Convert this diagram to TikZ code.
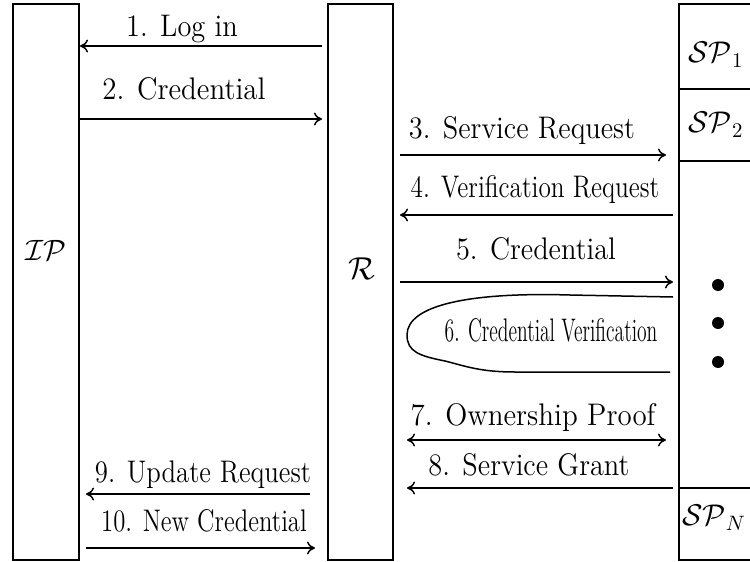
\documentclass[tikz,border=0pt]{standalone}
\usepackage{graphicx}
\usetikzlibrary{arrows.meta,calc}
\begin{document}
\begin{tikzpicture}[x=0.5pt,y=-0.5pt,
  box/.style={draw,line width=1pt,inner sep=0pt,outer sep=0pt,anchor=north west},
  arr/.style={line width=0.75pt,-{To[length=4pt,width=6.5pt]}},
  darr/.style={line width=0.75pt,{To[length=4pt,width=6.5pt]}-{To[length=4pt,width=6.5pt]}},
  lbl/.style={inner sep=0pt,anchor=base,font=\fontsize{14.2}{17}\selectfont},
  ent/.style={inner sep=0pt,font=\fontsize{14.4}{17}\selectfont},
  dot/.style={fill=black,circle,inner sep=0pt,minimum size=6pt}]
\useasboundingbox (0,0) rectangle (750,562);
\clip (0,0) rectangle (750,562);
% boxes
\node[box,minimum width=33pt,minimum height=278pt] (ip) at (13,4) {};
\node[box,minimum width=32.5pt,minimum height=278pt] (r) at (328,4) {};
\node[box,minimum width=38pt,minimum height=42.5pt] (sp1) at (679,4) {};
\node[box,minimum width=38pt,minimum height=36pt] (sp2) at (679,89) {};
\node[box,minimum width=38pt,minimum height=163.5pt] (spm) at (679,161) {};
\node[box,minimum width=38pt,minimum height=36pt] (spn) at (679,488) {};
% entity labels
\node[ent] (ipl) at (46,250) {\scalebox{1.02}{$\mathcal{IP}$}};
\node[ent] (rl) at (362,269) {\scalebox{1.1}{$\mathcal{R}$}};
\node[ent] (sp1l) at (716,55) {\scalebox{1.04}{$\mathcal{SP}_1$}};
\node[ent] (sp2l) at (716,125) {\scalebox{1.04}{$\mathcal{SP}_2$}};
\node[ent] (spnl) at (714,518) {\scalebox{1.04}{$\mathcal{SP}_N$}};
\node[dot] (d1) at (718,285) {};
\node[dot] (d2) at (718,323) {};
\node[dot] (d3) at (718,362) {};
% messages
\draw[arr] ([xshift=-3pt]r.west |- 0,46) -- ([xshift=0.5pt]ip.east |- 0,46);
\node[lbl] (l1) at (182,36) {\scalebox{1}[1.1]{1. Log in}};
\draw[arr] ([xshift=0.5pt]ip.east |- 0,119) -- ([xshift=-3pt]r.west |- 0,119);
\node[lbl] (l2) at (184,99) {\scalebox{1.02}[1.1]{2. Credential}};
\draw[arr] ([xshift=3.5pt]r.east |- 0,155) -- ([xshift=-6.5pt]spm.west |- 0,155);
\node[lbl] (l3) at (522,138) {\scalebox{1}[1.1]{3. Service Request}};
\draw[arr] ([xshift=-3pt]spm.west |- 0,215) -- ([xshift=3.5pt]r.east |- 0,215);
\node[lbl] (l4) at (535,197) {\scalebox{0.89}[1.1]{4. Verification Request}};
\draw[arr] ([xshift=3.5pt]r.east |- 0,282) -- ([xshift=-3pt]spm.west |- 0,282);
\node[lbl] (l5) at (536,259) {\scalebox{1}[1.1]{5. Credential}};
% verification loop
\coordinate (c6a) at (673,297);
\coordinate (c6b) at (670,372);
\draw[line width=0.75pt] (c6a) -- (570,295) .. controls (470,292) and (407,305) .. (407,335)
  .. controls (407,352) and (420,356) .. (445,361) .. controls (465,366) and (480,372) .. (515,372) -- (c6b);
\node[lbl] (l6) at (551,341) {\scalebox{0.69}[1.15]{6. Credential Verification}};
\draw[darr] ([xshift=7pt]r.east |- 0,440) -- ([xshift=-6.5pt]spm.west |- 0,440);
\node[lbl] (l7) at (533,425) {\scalebox{1.02}[1.1]{7. Ownership Proof}};
\draw[arr] ([xshift=-3pt]spn.west |- 0,488) -- ([xshift=7pt]r.east |- 0,488);
\node[lbl] (l8) at (529,475) {\scalebox{1}[1.1]{8. Service Grant}};
\draw[arr] ([xshift=-9pt]r.west |- 0,494) -- ([xshift=3.5pt]ip.east |- 0,494);
\node[lbl] (l9) at (203,482) {\scalebox{0.94}[1.1]{9. Update Request}};
\draw[arr] ([xshift=3.5pt]ip.east |- 0,548) -- ([xshift=-6.5pt]r.west |- 0,548);
\node[lbl] (l10) at (204,531) {\scalebox{0.87}[1.1]{10. New Credential}};
\end{tikzpicture}
\end{document}
